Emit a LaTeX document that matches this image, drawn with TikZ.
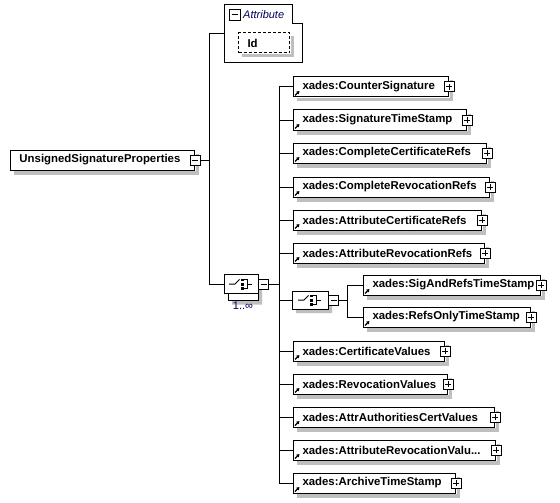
\documentclass[tikz,border=0pt]{standalone}
\usepackage{fontspec}
\setmainfont{Liberation Sans}
\usetikzlibrary{shapes.misc,arrows.meta}
\tikzset{
  conn/.style={line width=1pt, black},
  elem/.style={draw=black, line width=1pt, fill=white, anchor=west,
    minimum height=20pt, inner xsep=9pt, inner ysep=0pt, align=left,
    font=\fontsize{11.4}{13}\selectfont\bfseries},
  pmbox/.style={draw=black, line width=1pt, fill=white, minimum size=10pt, inner sep=0pt},
  plusbox/.style={pmbox, path picture={\draw[line width=1pt]
      ([xshift=-3pt]path picture bounding box.center) -- ([xshift=3pt]path picture bounding box.center)
      ([yshift=-3pt]path picture bounding box.center) -- ([yshift=3pt]path picture bounding box.center);}},
  minusbox/.style={pmbox, path picture={\draw[line width=1pt]
      ([xshift=-3pt]path picture bounding box.center) -- ([xshift=3pt]path picture bounding box.center);}},
  refarrow/.style={line width=1.3pt, -{Triangle[length=3pt,width=3.5pt]}},
  compositor/.style={chamfered rectangle, chamfered rectangle xsep=5pt, chamfered rectangle ysep=5pt,
    draw=black, line width=1pt, fill=white, minimum width=34pt, minimum height=19pt, inner sep=0pt},
  compshadow/.style={chamfered rectangle, chamfered rectangle xsep=5pt, chamfered rectangle ysep=5pt,
    draw=none, fill=black!25, minimum width=34pt, minimum height=19pt, inner sep=0pt},
}
% shadow strips drawn after a box node: right strip and bottom strip
\newcommand\sidestrips[1]{%
  \fill[black!25] ([xshift=0.5pt,yshift=-4pt]#1.north east) rectangle ([xshift=4pt,yshift=-4pt]#1.south east);
  \fill[black!25] ([xshift=4pt,yshift=-0.5pt]#1.south west) rectangle ([xshift=4pt,yshift=-4pt]#1.south east);
}
% name, x, y(center), width, text
\newcommand\elemnode[5]{%
  \pgfmathsetmacro\tw{#4-18}%
  \node[elem, text width=\tw pt] (#1) at (#2,#3) {#5};
  \sidestrips{#1}
  \node[plusbox] (#1-p) at (#1.east) {};
  \draw[refarrow] ([xshift=2pt,yshift=2pt]#1.south west) -- ++(4.5pt,4.5pt);
}
\newcommand\choiceicon[1]{%
  \draw[line width=1pt] ([xshift=-12pt]#1.center) -- ([xshift=-6pt]#1.center) -- ([xshift=-1.5pt,yshift=4.5pt]#1.center);
  \fill ([xshift=0pt,yshift=3pt]#1.center) rectangle ([xshift=3pt,yshift=5.5pt]#1.center);
  \fill ([xshift=0pt,yshift=-1.5pt]#1.center) rectangle ([xshift=3pt,yshift=1.5pt]#1.center);
  \fill ([xshift=0pt,yshift=-3pt]#1.center) rectangle ([xshift=3pt,yshift=-5.5pt]#1.center);
  \draw[line width=1pt] ([xshift=3pt,yshift=4.5pt]#1.center) -- ([xshift=6pt,yshift=4.5pt]#1.center)
    -- ([xshift=6pt,yshift=-4.5pt]#1.center) -- ([xshift=3pt,yshift=-4.5pt]#1.center)
    ([xshift=6pt]#1.center) -- ([xshift=11pt]#1.center);
}
\begin{document}
\begin{tikzpicture}[x=1pt,y=-1pt]
\path[fill=white] (0,0) rectangle (560,503);
\useasboundingbox (0,0) rectangle (560,503);

% root element
\node[elem, text width=166pt] (usp) at (10,160) {UnsignedSignatureProperties};
\sidestrips{usp}
\node[minusbox] (usp-m) at (usp.east) {};
\coordinate (b1) at (209,160);
\draw[conn] (usp-m.east) -- (b1);

% attribute group
\draw[line width=1pt, fill=white] (224,5) -- (292,5) -- (292,24) -- (302,24) -- (302,63) -- (224,63) -- cycle;
\coordinate (attrin) at (224,34);
\node[minusbox, minimum size=11pt] (attr-m) at (234.5,15) {};
\node[anchor=west, inner sep=0pt, font=\fontsize{11}{13}\selectfont\itshape, text=blue!35!black] (attrlbl) at (243,15) {Attribute};
\node[draw=black, dash pattern=on 3pt off 2pt, line width=1pt, fill=white, anchor=west,
  minimum height=20pt, minimum width=51pt, inner xsep=0pt, font=\fontsize{11.4}{13}\selectfont\bfseries] (id) at (238,43)
  {\makebox[51pt][l]{\hspace{9pt}Id}};
\sidestrips{id}
\draw[conn] (b1) |- (attrin);

% outer choice (1..inf)
\node[compshadow, minimum width=30pt] (ch1s) at (247,295) {};
\node[compositor, minimum width=30pt] (ch1b) at (243,291) {};
\node[compositor] (ch1) at (241,284) {};
\choiceicon{ch1}
\node[minusbox] (ch1-m) at ([xshift=5pt]ch1.east) {};
\node[font=\fontsize{11}{12}\selectfont, text=blue!35!black, inner sep=0pt] (mult) at (243,306) {1..∞};
\draw[conn] (b1) |- (ch1.west);
\coordinate (spine) at (279,284);
\draw[conn] (ch1-m.east) -- (spine);

% children
\elemnode{cs}{293}{87}{155}{xades:CounterSignature}
\elemnode{sts}{293}{120}{173}{xades:SignatureTimeStamp}
\elemnode{ccr}{293}{153}{193}{xades:CompleteCertificateRefs}
\elemnode{crr}{293}{187}{196}{xades:CompleteRevocationRefs}
\elemnode{acr}{293}{220}{188}{xades:AttributeCertificateRefs}
\elemnode{arr}{293}{253}{191}{xades:AttributeRevocationRefs}
\elemnode{cv}{293}{351}{151}{xades:CertificateValues}
\elemnode{rv}{293}{384}{154}{xades:RevocationValues}
\elemnode{aacv}{293}{417}{201}{xades:AttrAuthoritiesCertValues}
\elemnode{arv}{293}{450}{202}{xades:AttributeRevocationValu...}
\elemnode{ats}{293}{483}{162}{xades:ArchiveTimeStamp}

% inner choice
\node[compshadow, minimum width=36pt, minimum height=18pt] (ch2s) at (314,304) {};
\node[compositor, minimum width=36pt, minimum height=18pt] (ch2) at (310,300) {};
\choiceicon{ch2}
\node[minusbox] (ch2-m) at ([xshift=5pt]ch2.east) {};
\coordinate (spine2) at (347,300);
\draw[conn] (ch2-m.east) -- (spine2);
\elemnode{sart}{363}{285}{177}{xades:SigAndRefsTimeStamp}
\elemnode{rots}{363}{317}{167}{xades:RefsOnlyTimeStamp}
\draw[conn] (spine2) |- (sart.west);
\draw[conn] (spine2) |- (rots.west);

% connectors from outer choice spine
\foreach \n in {cs,sts,ccr,crr,acr,arr,cv,rv,aacv,arv,ats}{\draw[conn] (spine) |- (\n.west);}
\draw[conn] (spine) |- (ch2.west);
\end{tikzpicture}
\end{document}
